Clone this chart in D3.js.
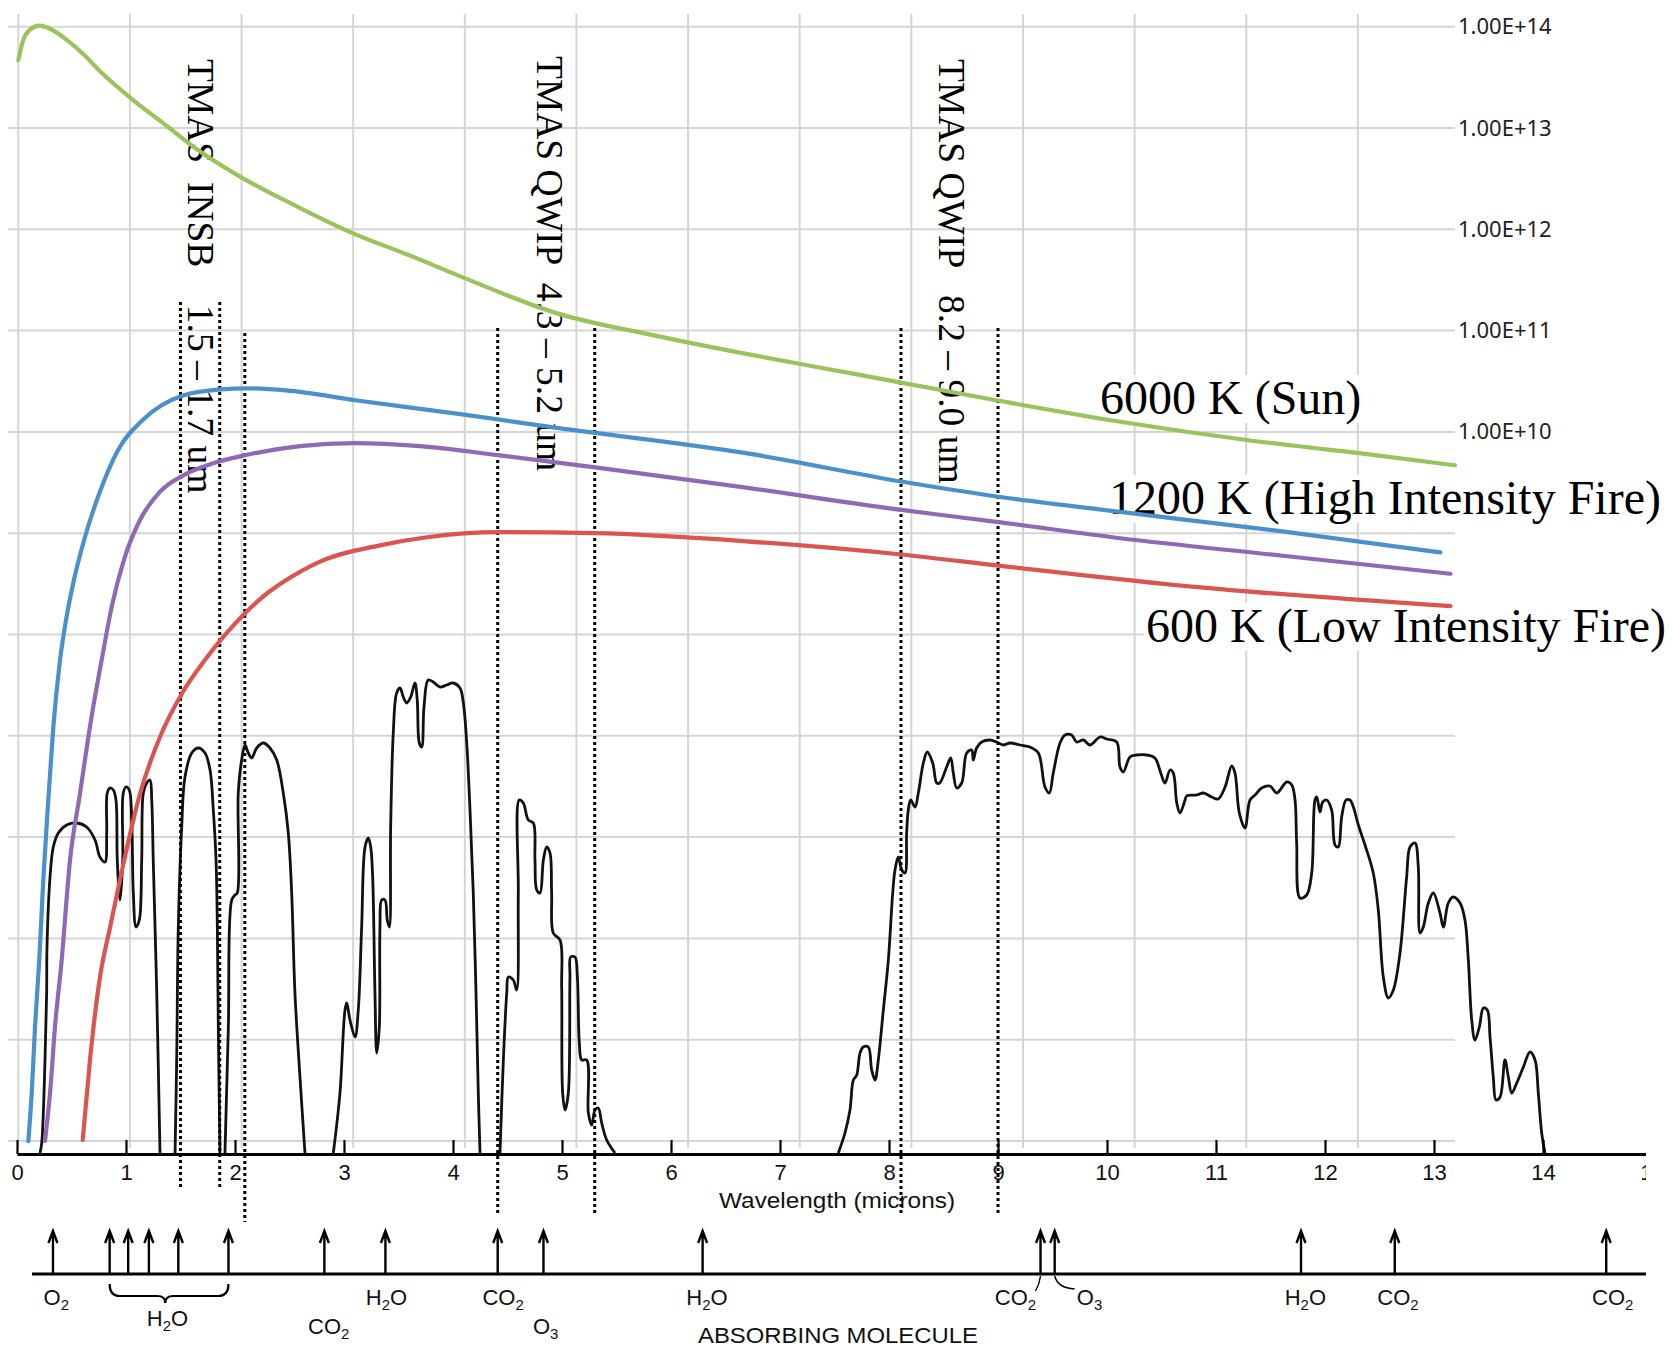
<!DOCTYPE html>
<html>
<head>
<meta charset="utf-8">
<script src="https://cdn.jsdelivr.net/npm/d3@7"></script>
<style>
  body { margin: 0; background: #fff; }
</style>
</head>
<body>
<div id="chart"></div>
<script>

var width = 1672, height = 1350;

// ---- blackbody curves: [x in grid units, log10(value)] ----
var sunCurve = [[0,13.67],[0.045,13.87],[0.105,13.97],[0.188,14.01],[0.284,13.98],[0.434,13.87],[0.582,13.73],[0.732,13.56],[1.001,13.30],[1.330,13.02],[1.613,12.78],[1.986,12.52],[2.524,12.21],[2.999,11.96],[3.510,11.74],[3.994,11.52],[4.827,11.17],[5.660,10.96],[6.520,10.77],[7.452,10.58],[8.770,10.31],[9.872,10.10],[11.00,9.92],[12.01,9.79],[12.87,9.67]];

var fire1200Curve = [[0.090,3.00],[0.120,3.47],[0.150,4.13],[0.188,4.79],[0.224,5.58],[0.269,6.37],[0.314,7.09],[0.374,7.75],[0.427,8.14],[0.499,8.54],[0.589,8.93],[0.705,9.33],[0.893,9.82],[1.117,10.12],[1.476,10.36],[1.816,10.42],[2.040,10.43],[2.399,10.41],[3.035,10.31],[3.994,10.17],[4.827,10.04],[6.520,9.79],[7.909,9.51],[8.779,9.36],[9.872,9.21],[11.306,9.02],[12.739,8.81]];

var purpleCurve = [[0.239,3.00],[0.284,3.47],[0.329,4.13],[0.389,4.79],[0.463,5.77],[0.553,6.43],[0.642,7.09],[0.747,7.75],[0.840,8.29],[0.947,8.74],[1.090,9.13],[1.270,9.41],[1.494,9.58],[1.745,9.69],[2.031,9.77],[2.524,9.86],[3.008,9.89],[3.600,9.86],[4.299,9.77],[5.168,9.65],[6.520,9.45],[7.909,9.23],[8.779,9.11],[9.872,8.95],[11.306,8.78],[12.829,8.60]];

var fire600Curve = [[0.577,3.01],[0.642,3.80],[0.732,4.62],[0.822,5.11],[0.911,5.58],[1.091,6.43],[1.270,6.99],[1.467,7.42],[1.673,7.75],[2.031,8.21],[2.210,8.39],[2.390,8.53],[2.703,8.72],[3.241,8.88],[3.662,8.96],[4.299,9.01],[5.168,9.00],[6.520,8.92],[7.909,8.79],[8.779,8.68],[10.347,8.49],[12.829,8.28]];

var curveColors = ["#9bc35c", "#4a91cc", "#8f69b5", "#db5450"];

var gridDecades = [1e3,1e4,1e5,1e6,1e7,1e8,1e9,1e10,1e11,1e12,1e13,1e14];
var labelDecades = [1e10,1e11,1e12,1e13,1e14];
var xGridTicks = [0,1,2,3,4,5,6,7,8,9,10,11,12];

// ---- atmospheric transmission: [wavelength um, transmission %] ----
var abs1 = [[0.211,0],[0.227,2],[0.257,18.6],[0.272,32],[0.275,41],[0.303,55.2],[0.333,61.2],[0.379,64],[0.456,65.6],[0.548,66],[0.639,65.2],[0.716,62.6],[0.761,59.2],[0.807,58.2],[0.823,64],[0.828,72],[0.853,73],[0.884,72.6],[0.908,70.6],[0.920,58.6],[0.945,50.6],[0.970,58.6],[0.975,72],[1.000,73.2],[1.030,72.6],[1.052,66.6],[1.067,52],[1.092,45.2],[1.122,46.6],[1.144,58.6],[1.159,72],[1.190,74],[1.220,74.6],[1.236,70.6],[1.250,58.6],[1.282,32],[1.312,0]];
var abs2 = [[1.450,0],[1.465,18.6],[1.480,45.2],[1.511,65.2],[1.541,75.2],[1.603,80],[1.663,81],[1.725,80],[1.771,76.6],[1.801,68.6],[1.826,58.6],[1.838,45.2],[1.847,25.2],[1.862,0]];
var abs3 = [[1.908,0],[1.939,25.2],[1.970,50.6],[2.000,51.6],[2.021,52],[2.030,72],[2.061,78.6],[2.092,81.6],[2.122,80],[2.153,79],[2.199,81],[2.260,82],[2.321,81],[2.383,78.6],[2.443,72],[2.489,64],[2.520,52],[2.550,32],[2.596,15.2],[2.642,0]];
var abs4 = [[2.902,0],[2.963,12],[3.009,28.6],[3.025,30],[3.055,26.6],[3.101,23.2],[3.131,28.6],[3.162,45.2],[3.193,61.2],[3.223,63],[3.245,61.2],[3.263,55.2],[3.284,32],[3.300,20],[3.324,25.2],[3.330,45.2],[3.346,50.6],[3.376,50.6],[3.397,46.6],[3.416,45.2],[3.428,65.2],[3.452,84],[3.483,92],[3.514,93],[3.544,91.2],[3.575,90],[3.612,91.2],[3.651,94],[3.672,90.6],[3.691,82],[3.713,81.2],[3.734,89.2],[3.773,94.6],[3.819,94.2],[3.881,93.2],[3.942,93.6],[4.003,94],[4.064,93],[4.095,90],[4.126,82],[4.156,68.6],[4.186,52],[4.211,32],[4.232,12],[4.248,0]];
var abs5 = [[4.431,0],[4.462,18.6],[4.493,32],[4.508,35.2],[4.553,34.6],[4.584,32.6],[4.599,52],[4.608,70.6],[4.645,70],[4.691,66.6],[4.737,66],[4.752,58.6],[4.768,52.6],[4.798,52],[4.829,58.6],[4.860,61.2],[4.890,60],[4.905,52],[4.920,44],[4.982,42.6],[4.997,33.2],[5.006,12],[5.028,8.6],[5.058,12],[5.073,35.2],[5.080,39.2],[5.119,39.2],[5.141,35.2],[5.159,22],[5.181,18.6],[5.227,18.6],[5.242,8],[5.273,5.6],[5.303,8.6],[5.333,9],[5.364,6],[5.410,2.6],[5.486,0]];
var abs6 = [[7.535,0],[7.596,4],[7.642,8.6],[7.673,14.6],[7.704,15.6],[7.734,20],[7.764,21.2],[7.810,21.2],[7.841,16.6],[7.872,14.6],[7.902,18.6],[7.948,28.6],[7.994,38.6],[8.034,52],[8.055,56.6],[8.085,59.2],[8.117,56.6],[8.147,56],[8.162,64],[8.177,68.6],[8.199,70.6],[8.239,69.2],[8.269,72],[8.315,78],[8.351,80.2],[8.401,78],[8.438,74],[8.465,74],[8.529,77.2],[8.566,79],[8.590,76],[8.621,73],[8.667,74],[8.713,80],[8.759,80.6],[8.773,78.6],[8.804,81],[8.850,82.2],[8.927,82.6],[8.988,82.2],[9.049,81.6],[9.110,82],[9.202,81.6],[9.294,81.2],[9.370,80],[9.431,73.2],[9.471,72],[9.507,76],[9.569,82],[9.615,83.6],[9.676,83.6],[9.722,82.2],[9.783,82.6],[9.844,81.6],[9.936,83.2],[9.997,82.8],[10.089,82.2],[10.119,77.2],[10.150,76.2],[10.211,79.2],[10.272,79.6],[10.364,79.6],[10.440,79],[10.493,76],[10.532,74],[10.578,76.6],[10.608,76],[10.640,70],[10.670,68],[10.716,70.6],[10.731,71.4],[10.823,71.6],[10.884,72],[10.961,71.2],[11.021,70.8],[11.083,73.2],[11.144,77.4],[11.174,76],[11.214,68],[11.266,65],[11.312,70.6],[11.358,71.6],[11.419,73],[11.495,73.4],[11.557,72],[11.649,74.2],[11.695,73.6],[11.725,70.6],[11.740,62],[11.771,51],[11.832,51.6],[11.878,56],[11.908,70.6],[11.924,71.2],[11.954,68.2],[11.979,70.2],[12.015,70.6],[12.061,68.6],[12.092,61.6],[12.122,61.2],[12.153,67.2],[12.193,70.6],[12.229,70.6],[12.260,69.2],[12.306,65.6],[12.367,61.6],[12.443,56],[12.489,48.6],[12.535,35.2],[12.581,31],[12.627,32.6],[12.688,40],[12.749,55.2],[12.780,61.2],[12.826,62],[12.856,57.2],[12.872,44],[12.902,45.2],[12.948,50],[12.994,52],[13.055,48],[13.086,45.2],[13.131,50],[13.177,51.2],[13.239,50],[13.284,46.6],[13.315,38.6],[13.346,26.6],[13.376,22.6],[13.416,25.2],[13.453,29],[13.489,28.6],[13.514,23.2],[13.544,15.2],[13.569,10.6],[13.606,11.2],[13.651,18.6],[13.682,15.2],[13.713,12],[13.759,14],[13.820,17.2],[13.881,20.2],[13.927,18.6],[13.957,12],[13.988,4],[14.018,0]];
var absSegments = [abs1, abs2, abs3, abs4, abs5, abs6];

var wlTicks = [0,1,2,3,4,5,6,7,8,9,10,11,12,13,14,15];

// TMAS band edges (um)
var bandEdges = [1.50, 1.86, 2.09, 4.41, 5.30, 8.11, 9.00];
var bandLabels = ["TMAS  INSB    1.5 \u2013 1.7 um", "TMAS QWIP  4.3 \u2013 5.2 um", "TMAS QWIP   8.2 \u2013 9.0 um"];
var curveNames = ["6000 K (Sun)", "1200 K (High Intensity Fire)", "600 K (Low Intensity Fire)"];

// absorbing molecules
var arrowWl = [0.33, 0.85, 1.02, 1.21, 1.48, 1.94, 2.82, 3.38, 4.41, 4.83, 6.29, 9.39, 9.52, 11.78, 12.64, 14.58];
var molNames = ["O2","H2O","CO2","H2O","CO2","O3","H2O","CO2","O3","H2O","CO2","CO2"];
var molLabelWl = [0.36, 1.38, 2.86, 3.39, 4.46, 4.85, 6.33, 9.16, 9.84, 11.82, 12.67, 14.64];
var molLabelRow = [0, 1, 2, 0, 0, 2, 0, 0, 0, 0, 0, 0];

// ---- layout ----
var layout = {
  bandTop: [302, 302, 333, 328, 328, 328, 328],
  bandBottom: [1189, 1189, 1222, 1215, 1215, 1215, 1215],
  bandLabelPos: [[188, 59], [537, 56], [939, 59]],
  nameLabelPos: [[1100, 414], [1109, 514], [1146, 642]],
  rowY: [1305, 1326, 1334],
  axisY: 1154,
  molLineY: 1274,
  arrowTop: 1231
};

var svg = d3.select("#chart").append("svg")
  .attr("width", width)
  .attr("height", height);

svg.append("defs").append("clipPath").attr("id", "clipR")
  .append("rect").attr("x", 0).attr("y", 0).attr("width", 1646).attr("height", height);

var xTop = d3.scaleLinear().domain([0, 12.87]).range([18.3, 1455]);
var yTop = d3.scaleLog().domain([1e3, 1e14]).range([1141, 26.7]);
var xWl = d3.scaleLinear().domain([0, 15]).range([17, 1652]);
var yAbs = d3.scaleLinear().domain([0, 100]).range([1153, 653]);

// gridlines
svg.append("g").selectAll("line")
  .data(gridDecades)
  .enter().append("line")
    .attr("x1", 8).attr("x2", xTop(12.87))
    .attr("y1", function(d) { return yTop(d); })
    .attr("y2", function(d) { return yTop(d); })
    .attr("stroke", "#d5d5d5").attr("stroke-width", 2);

svg.append("g").selectAll("line")
  .data(xGridTicks)
  .enter().append("line")
    .attr("x1", function(d) { return xTop(d); })
    .attr("x2", function(d) { return xTop(d); })
    .attr("y1", 14).attr("y2", 1148)
    .attr("stroke", "#d5d5d5").attr("stroke-width", 2);

// right value axis
var yAxis = d3.axisRight(yTop)
  .tickValues(labelDecades)
  .tickSize(0)
  .tickPadding(3)
  .tickFormat(function(d) { return "1.00E+" + Math.round(Math.log10(d)); });

var yAxisG = svg.append("g")
  .attr("transform", "translate(" + xTop(12.87) + ",0)")
  .call(yAxis);
yAxisG.select(".domain").remove();
yAxisG.selectAll("text")
  .style("font-family", "'Noto Sans', 'Open Sans', sans-serif")
  .style("font-size", "22px")
  .attr("fill", "#222");

// absorption spectrum
var absLine = d3.line()
  .x(function(d) { return xWl(d[0]); })
  .y(function(d) { return yAbs(d[1]); })
  .curve(d3.curveCatmullRom.alpha(0.5));

svg.append("g").selectAll("path")
  .data(absSegments)
  .enter().append("path")
    .attr("d", absLine)
    .attr("fill", "none")
    .attr("stroke", "#111")
    .attr("stroke-width", 2.8)
    .attr("stroke-linejoin", "round");

// series name labels with white boxes
var nameG = svg.append("g");
curveNames.forEach(function(name, i) {
  var t = nameG.append("text")
    .attr("x", layout.nameLabelPos[i][0])
    .attr("y", layout.nameLabelPos[i][1])
    .style("font-family", "'Liberation Serif', 'Times New Roman', serif")
    .style("font-size", "48px")
    .attr("fill", "#000")
    .text(name);
  var bb = t.node().getBBox();
  nameG.insert("rect", "text")
    .attr("x", bb.x - 2).attr("y", bb.y + 4)
    .attr("width", bb.width + 4).attr("height", bb.height - 6)
    .attr("fill", "#fff");
});

// rotated band labels
bandLabels.forEach(function(label, i) {
  svg.append("text")
    .attr("transform", "translate(" + layout.bandLabelPos[i][0] + "," + layout.bandLabelPos[i][1] + ") rotate(90)")
    .style("font-family", "'Liberation Serif', 'Times New Roman', serif")
    .style("font-size", "37.5px")
    .style("white-space", "pre")
    .attr("fill", "#000")
    .text(label);
});

// dotted band lines
svg.append("g").selectAll("line")
  .data(bandEdges)
  .enter().append("line")
    .attr("x1", function(d) { return xWl(d); })
    .attr("x2", function(d) { return xWl(d); })
    .attr("y1", function(d, i) { return layout.bandTop[i]; })
    .attr("y2", function(d, i) { return layout.bandBottom[i]; })
    .attr("stroke", "#000")
    .attr("stroke-width", 3)
    .attr("stroke-dasharray", "3,3");

// blackbody curves
var bbLine = d3.line()
  .x(function(d) { return xTop(d[0]); })
  .y(function(d) { return yTop(Math.pow(10, d[1])); })
  .curve(d3.curveMonotoneX);

svg.append("g").selectAll("path")
  .data([fire600Curve, purpleCurve, fire1200Curve, sunCurve])
  .enter().append("path")
    .attr("d", bbLine)
    .attr("fill", "none")
    .attr("stroke", function(d, i) { return curveColors[3 - i]; })
    .attr("stroke-width", 4.2)
    .attr("stroke-linecap", "round");

// wavelength axis
var wlAxis = d3.axisBottom(xWl)
  .tickValues(wlTicks)
  .tickSizeInner(-14)
  .tickSizeOuter(0)
  .tickPadding(10)
  .tickFormat(d3.format("d"));

var wlG = svg.append("g")
  .attr("clip-path", "url(#clipR)")
  .append("g")
  .attr("transform", "translate(0," + layout.axisY + ")")
  .call(wlAxis);
wlG.select(".domain").attr("stroke", "#000").attr("stroke-width", 3.2);
wlG.selectAll(".tick line").attr("stroke", "#000").attr("stroke-width", 2.2);
wlG.selectAll("text")
  .style("font-family", "'Liberation Sans', Arial, sans-serif")
  .style("font-size", "22px")
  .attr("fill", "#111");

svg.append("text")
  .attr("x", 837).attr("y", 1208)
  .attr("text-anchor", "middle")
  .attr("textLength", 236).attr("lengthAdjust", "spacingAndGlyphs")
  .style("font-family", "'Liberation Sans', Arial, sans-serif")
  .style("font-size", "22px")
  .attr("fill", "#111")
  .text("Wavelength (microns)");

// absorbing molecule strip
var molG = svg.append("g").attr("clip-path", "url(#clipR)");
molG.append("line")
  .attr("x1", 32).attr("x2", 1646)
  .attr("y1", layout.molLineY).attr("y2", layout.molLineY)
  .attr("stroke", "#000").attr("stroke-width", 3.2);

molG.selectAll(".arrow")
  .data(arrowWl)
  .enter().append("path")
    .attr("class", "arrow")
    .attr("d", function(d) {
      var x = xWl(d);
      return "M" + x + "," + layout.molLineY + "V" + layout.arrowTop +
        "M" + (x - 4.5) + "," + (layout.arrowTop + 12) + "L" + x + "," + layout.arrowTop + "L" + (x + 4.5) + "," + (layout.arrowTop + 12);
    })
    .attr("fill", "none")
    .attr("stroke", "#000")
    .attr("stroke-width", 2.4);

// H2O brace
var bx0 = xWl(0.85), bx1 = xWl(1.94), bm = xWl(1.36);
molG.append("path")
  .attr("d", "M" + bx0 + ",1284 Q" + bx0 + ",1296 " + (bx0 + 10) + ",1296 L" + (bm - 8) + ",1296 Q" + bm + ",1296 " + bm + ",1303 Q" + bm + ",1296 " + (bm + 8) + ",1296 L" + (bx1 - 10) + ",1296 Q" + bx1 + ",1296 " + bx1 + ",1284")
  .attr("fill", "none").attr("stroke", "#000").attr("stroke-width", 2.2);

// leader lines for CO2 / O3 near 9.4 um
molG.append("path")
  .attr("d", "M" + (xWl(9.39) - 5) + ",1291 Q" + (xWl(9.39) - 1) + ",1284 " + xWl(9.39) + ",1276")
  .attr("fill", "none").attr("stroke", "#000").attr("stroke-width", 1.4);
molG.append("path")
  .attr("d", "M" + (xWl(9.52) + 20) + ",1289 Q" + (xWl(9.52) + 3) + ",1288 " + xWl(9.52) + ",1276")
  .attr("fill", "none").attr("stroke", "#000").attr("stroke-width", 1.4);

molNames.forEach(function(name, i) {
  var t = molG.append("text")
    .attr("x", xWl(molLabelWl[i]))
    .attr("y", layout.rowY[molLabelRow[i]])
    .attr("text-anchor", "middle")
    .style("font-family", "'Liberation Sans', Arial, sans-serif")
    .style("font-size", "22px")
    .attr("fill", "#111");
  var shifted = false;
  name.split("").forEach(function(ch) {
    if (/[0-9]/.test(ch)) {
      t.append("tspan").attr("dy", 5).style("font-size", "15px").text(ch);
      shifted = true;
    } else {
      var sp = t.append("tspan").text(ch);
      if (shifted) { sp.attr("dy", -5); shifted = false; }
    }
  });
});

svg.append("text")
  .attr("x", 838).attr("y", 1343)
  .attr("text-anchor", "middle")
  .attr("textLength", 280).attr("lengthAdjust", "spacingAndGlyphs")
  .style("font-family", "'Liberation Sans', Arial, sans-serif")
  .style("font-size", "22px")
  .attr("fill", "#111")
  .text("ABSORBING MOLECULE");

</script>
</body>
</html>
